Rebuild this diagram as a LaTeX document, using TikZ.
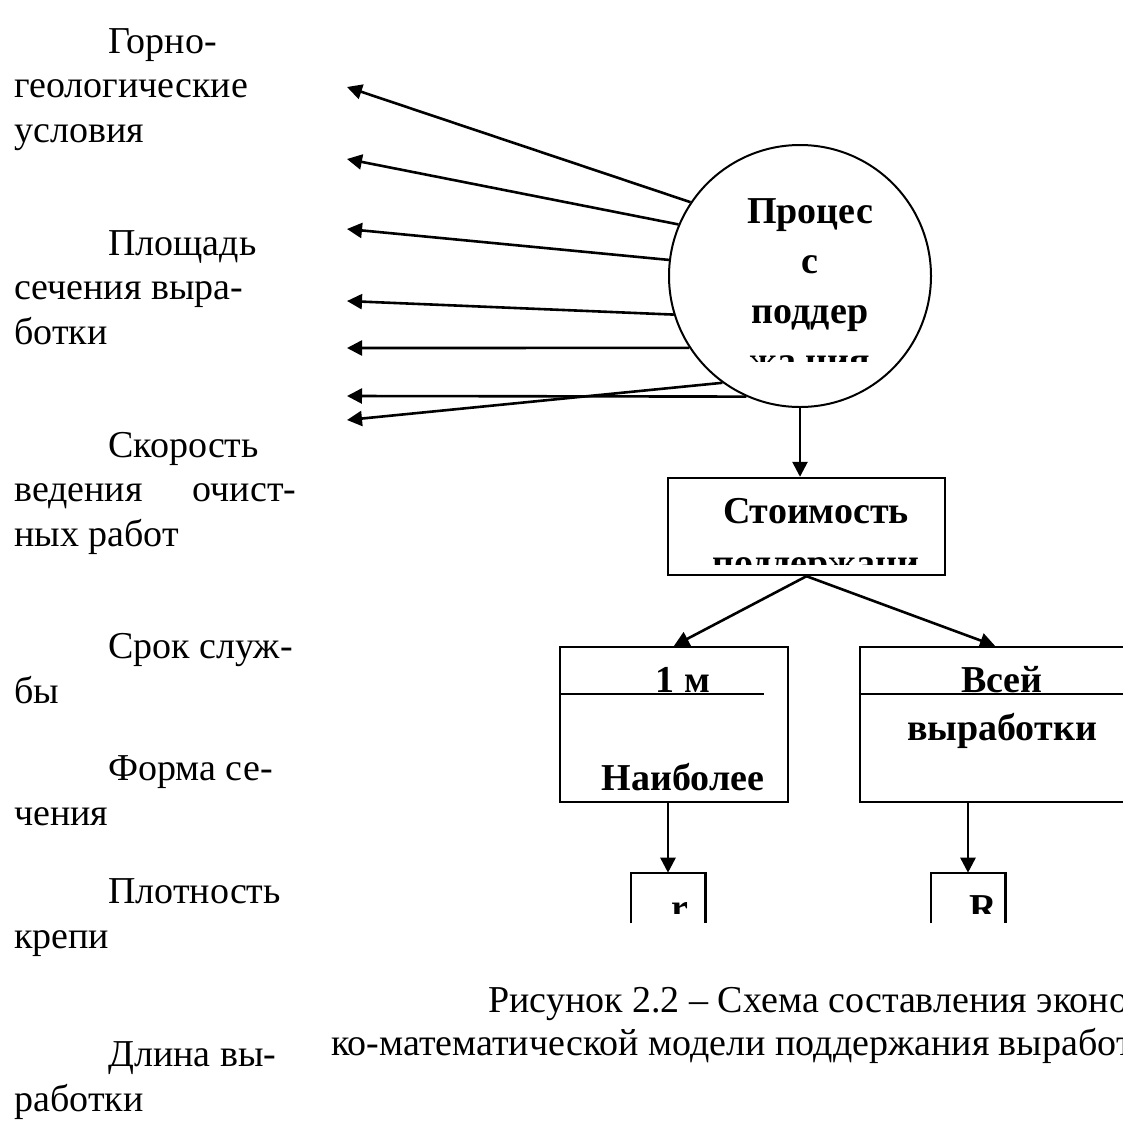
\documentclass[tikz,border=0pt]{standalone}
\usepackage{fontspec}
\setmainfont{Liberation Serif}
\usetikzlibrary{arrows.meta}

\newcommand{\txt}{\fontsize{38}{44.5}\selectfont}
\newcommand{\btxt}{\fontsize{38}{44.5}\selectfont\bfseries}

\begin{document}
\begin{tikzpicture}[x=1pt,y=-1pt,
  line width=2.6pt,
  tip/.style={-{Triangle[length=15pt,width=15pt]}},
  para/.style={anchor=base west,inner sep=0pt,align=left,font=\txt},
  bline/.style={anchor=base,inner sep=0pt,font=\btxt},
  frame/.style={draw,inner sep=0pt,line width=2.4pt},
]
\clip (0,0) rectangle (1123,1133);
\fill[white] (0,0) rectangle (1123,1133);

% factor list on the left (each node sits on the baseline of its last line)
\node[para] (f1) at (13,142)  {\hspace*{94pt}Горно-\\геологические\\условия};
\node[para] (f2) at (13,344)  {\hspace*{94pt}Площадь\\сечения выра-\\ботки};
\node[para] (f3) at (13,546)  {\hspace*{94pt}Скорость\\\hbox to 282pt{ведения\hfill очист-}\\ных работ};
\node[para] (f4) at (13,703)  {\hspace*{94pt}Срок служ-\\бы};
\node[para] (f5) at (13,825)  {\hspace*{94pt}Форма се-\\чения};
\node[para] (f6) at (13,948)  {\hspace*{94pt}Плотность\\крепи};
\node[para] (f7) at (13,1111) {\hspace*{94pt}Длина вы-\\работки};

% arrow tips on the left
\coordinate (t1) at (347,87);
\coordinate (t2) at (347,159);
\coordinate (t3) at (347,229);
\coordinate (t4) at (347,301);
\coordinate (t5) at (347,348);
\coordinate (t6) at (347,396);
\coordinate (t7) at (347,420);

% process circle
\node[circle,draw,fill=white,line width=2pt,minimum size=262pt,inner sep=0pt] (proc) at (800,276) {};

\draw[tip] (proc.146.9) -- (t1);
\draw[tip] (proc.157.1) -- (t2);
\draw[tip] (proc.173.5) -- (t3);
\draw[tip] (proc.197.9) -- (t4);
\draw[tip] (proc.213.2) -- (t5);
\draw[tip] (proc.246.4) -- (t6);
\draw[tip] (proc.234.3) -- (t7);

\begin{scope}
  \clip (680,160) rectangle (930,361);
  \node[bline] (p1) at (810,223) {Процес};
  \node[bline] (p2) at (810,273) {с};
  \node[bline] (p3) at (810,323) {поддер};
  \node[bline] (p4) at (810,373) {жа ния};
\end{scope}

% cost box
\node[frame,minimum width=277pt,minimum height=97pt] (cost) at (806.5,526.5) {};
\draw[tip] (proc.south) -- (cost.north -| proc.south);
\begin{scope}
  \clip (670,480) rectangle (943,564);
  \node[bline] (c1) at (816,523) {Стоимость};
  \node[bline] (c2) at (816,575) {поддержани};
\end{scope}

% per metre box
\node[frame,minimum width=228pt,minimum height=155pt] (unit) at (674,724.5) {};
\draw (unit.north west |- 0,694) -- (764,694);
\node[bline] (u1) at (683,692) {1 м};
\node[bline] (u2) at (683,790) {Наиболее};

% whole working box
\node[frame,minimum width=270pt,minimum height=155pt] (whole) at (995,724.5) {};
\draw (whole.west |- 0,694) -- (1125,694);
\node[bline] (w1) at (1002,692) {Всей};
\node[bline] (w2) at (1002,740) {выработки};

\draw[tip] (cost.south) -- (unit.north);
\draw[tip] (cost.south) -- (whole.north);

% result boxes, open at the bottom
\node[inner sep=0pt,minimum width=72pt,minimum height=48pt] (rs) at (668,898) {};
\node[inner sep=0pt,minimum width=72pt,minimum height=48pt] (Rs) at (968,898) {};
\draw[line width=2.4pt] (rs.south west) -- (rs.north west) -- (rs.north east) -- (rs.south east);
\draw[line width=2.4pt] (Rs.south west) -- (Rs.north west) -- (Rs.north east) -- (Rs.south east);
\draw[tip] (unit.south -| rs.north) -- (rs.north);
\draw[tip] (whole.south -| Rs.north) -- (Rs.north);
\begin{scope}
  \clip (600,876) rectangle (1020,913);
  \node[bline] (r1) at (680,920) {r};
  \node[bline] (r2) at (983,920) {R};
\end{scope}

% caption
\node[para] (cap1) at (487,1012) {Рисунок 2.2 – Схема составления экономи-};
\node[para] (cap2) at (330,1055) {ко-математической модели поддержания выработки.};
\end{tikzpicture}
\end{document}
